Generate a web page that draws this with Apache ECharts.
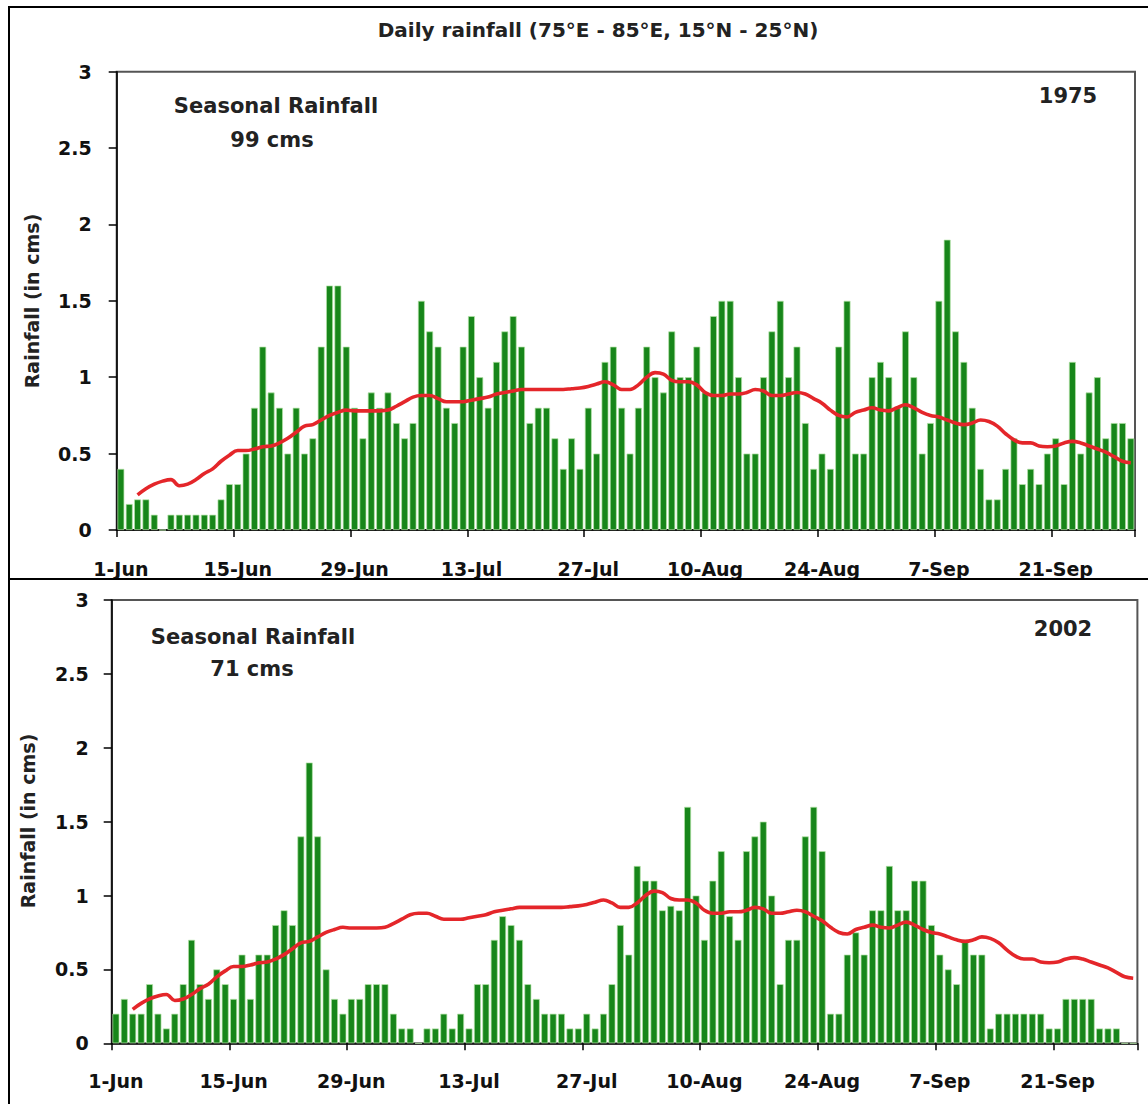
<!DOCTYPE html>
<html>
<head>
<meta charset="utf-8">
<script src="https://cdn.jsdelivr.net/npm/echarts@6/dist/echarts.min.js"></script>
<style>
html,body{margin:0;padding:0;background:#fff;}
#chart{width:1148px;height:1104px;}
</style>
</head>
<body>
<div id="chart"></div>
<script>
// ---- Data ----
const monthNames = ['Jun', 'Jul', 'Aug', 'Sep'];
const monthDays = [30, 31, 31, 30];
const tickLabels = ['1-Jun', '15-Jun', '29-Jun', '13-Jul', '27-Jul', '10-Aug', '24-Aug', '7-Sep', '21-Sep'];

// daily rainfall 1975 (cm), 1 Jun .. 30 Sep
const rain1975 = [
  0.4, 0.17, 0.2, 0.2, 0.1, 0, 0.1, 0.1, 0.1, 0.1,
  0.1, 0.1, 0.2, 0.3, 0.3, 0.5, 0.8, 1.2, 0.9, 0.8,
  0.5, 0.8, 0.5, 0.6, 1.2, 1.6, 1.6, 1.2, 0.8, 0.6,
  0.9, 0.8, 0.9, 0.7, 0.6, 0.7, 1.5, 1.3, 1.2, 0.8,
  0.7, 1.2, 1.4, 1.0, 0.8, 1.1, 1.3, 1.4, 1.2, 0.7,
  0.8, 0.8, 0.6, 0.4, 0.6, 0.4, 0.8, 0.5, 1.1, 1.2,
  0.8, 0.5, 0.8, 1.2, 1.0, 0.9, 1.3, 1.0, 1.0, 1.2,
  0.9, 1.4, 1.5, 1.5, 1.0, 0.5, 0.5, 1.0, 1.3, 1.5,
  1.0, 1.2, 0.7, 0.4, 0.5, 0.4, 1.2, 1.5, 0.5, 0.5,
  1.0, 1.1, 1.0, 0.8, 1.3, 1.0, 0.5, 0.7, 1.5, 1.9,
  1.3, 1.1, 0.8, 0.4, 0.2, 0.2, 0.4, 0.6, 0.3, 0.4,
  0.3, 0.5, 0.6, 0.3, 1.1, 0.5, 0.9, 1.0, 0.6, 0.7, 0.7, 0.6
];

// daily rainfall 2002 (cm)
const rain2002 = [
  0.2, 0.3, 0.2, 0.2, 0.4, 0.2, 0.1, 0.2, 0.4, 0.7,
  0.4, 0.3, 0.5, 0.4, 0.3, 0.6, 0.3, 0.6, 0.6, 0.8,
  0.9, 0.8, 1.4, 1.9, 1.4, 0.5, 0.3, 0.2, 0.3, 0.3,
  0.4, 0.4, 0.4, 0.2, 0.1, 0.1, 0, 0.1, 0.1, 0.2,
  0.1, 0.2, 0.1, 0.4, 0.4, 0.7, 0.86, 0.8, 0.7, 0.4,
  0.3, 0.2, 0.2, 0.2, 0.1, 0.1, 0.2, 0.1, 0.2, 0.4,
  0.8, 0.6, 1.2, 1.1, 1.1, 0.9, 0.93, 0.9, 1.6, 1.0,
  0.7, 1.1, 1.3, 0.86, 0.7, 1.3, 1.4, 1.5, 1.0, 0.4,
  0.7, 0.7, 1.4, 1.6, 1.3, 0.2, 0.2, 0.6, 0.75, 0.6,
  0.9, 0.9, 1.2, 0.9, 0.9, 1.1, 1.1, 0.8, 0.6, 0.5,
  0.4, 0.7, 0.6, 0.6, 0.1, 0.2, 0.2, 0.2, 0.2, 0.2,
  0.2, 0.1, 0.1, 0.3, 0.3, 0.3, 0.3, 0.1, 0.1, 0.1, 0, 0
];

// normal (climatological) daily rainfall curve, same in both panels
const normalCurve = [
  null, null, 0.23, 0.27, 0.30, 0.32, 0.33, 0.29, 0.30, 0.33,
  0.37, 0.40, 0.45, 0.49, 0.52, 0.52, 0.53, 0.545, 0.55, 0.57,
  0.60, 0.64, 0.68, 0.69, 0.72, 0.75, 0.77, 0.785, 0.78, 0.78,
  0.78, 0.78, 0.785, 0.81, 0.84, 0.87, 0.88, 0.88, 0.86, 0.84,
  0.84, 0.84, 0.85, 0.86, 0.87, 0.89, 0.90, 0.91, 0.92, 0.92,
  0.92, 0.92, 0.92, 0.92, 0.925, 0.93, 0.94, 0.955, 0.97, 0.95,
  0.92, 0.92, 0.95, 1.00, 1.03, 1.02, 0.98, 0.97, 0.97, 0.95,
  0.90, 0.88, 0.88, 0.89, 0.89, 0.90, 0.92, 0.91, 0.88, 0.88,
  0.89, 0.90, 0.89, 0.86, 0.83, 0.785, 0.75, 0.74, 0.77, 0.785,
  0.80, 0.785, 0.78, 0.80, 0.82, 0.80, 0.77, 0.75, 0.74, 0.72,
  0.70, 0.69, 0.70, 0.72, 0.71, 0.68, 0.63, 0.59, 0.57, 0.57,
  0.55, 0.545, 0.55, 0.57, 0.58, 0.57, 0.55, 0.53, 0.51, 0.48, 0.45, 0.44
];

const yTicks = [0, 0.5, 1, 1.5, 2, 2.5, 3];

// categories: day-month labels
const categories = [];
monthNames.forEach((m, k) => {
  for (let d = 1; d <= monthDays[k]; d++) categories.push(d + '-' + m);
});

// ---- Chart ----
const chart = echarts.init(document.getElementById('chart'), null, {renderer: 'svg'});
const FONT = '"DejaVu Sans", "Liberation Sans", Arial, sans-serif';

function xAxisCfg(gridIndex, margin) {
  return {
    type: 'category', gridIndex: gridIndex, data: categories, boundaryGap: true,
    axisLine: {show: true, lineStyle: {color: '#000', width: 1.5}},
    axisTick: {show: true, length: 7, interval: 13, lineStyle: {color: '#000', width: 1.5}},
    axisLabel: {
      interval: 13, margin: margin, color: '#111', fontFamily: FONT, fontWeight: 'bold', fontSize: 19,
      formatter: v => tickLabels.indexOf(v) >= 0 ? v : ''
    },
    splitLine: {show: false}
  };
}
function yAxisCfg(gridIndex, margin) {
  return {
    type: 'value', gridIndex: gridIndex, min: yTicks[0], max: yTicks[yTicks.length - 1], interval: 0.5,
    axisLine: {show: true, lineStyle: {color: '#000', width: 1.5}},
    axisTick: {show: true, length: 8, lineStyle: {color: '#000', width: 1.5}},
    axisLabel: {margin: margin, color: '#111', fontFamily: FONT, fontWeight: 'bold', fontSize: 19},
    splitLine: {show: false}
  };
}
const barStyle = {color: '#17861a', borderColor: '#b4e4a8', borderWidth: 0.7};
const lineStyle = {color: '#e4262a', width: 3.6};

const txt = (x, y, text, size, extra) => Object.assign({
  type: 'text', x: x, y: y, z: 50,
  style: {text: text, fill: '#222', font: 'bold ' + size + 'px ' + FONT, align: 'center', verticalAlign: 'middle'}
}, extra || {});

chart.setOption({
  animation: false,
  backgroundColor: '#fff',
  grid: [
    {left: 116.7, top: 71.7, width: 1018.3, height: 458.3, show: true, borderColor: '#555', borderWidth: 2, backgroundColor: 'transparent'},
    {left: 111.7, top: 600, width: 1025.7, height: 443.3, show: true, borderColor: '#555', borderWidth: 2, backgroundColor: 'transparent'}
  ],
  xAxis: [xAxisCfg(0, 29), xAxisCfg(1, 28)],
  yAxis: [yAxisCfg(0, 25), yAxisCfg(1, 23)],
  series: [
    {type: 'bar', xAxisIndex: 0, yAxisIndex: 0, data: rain1975, barCategoryGap: '18%', itemStyle: barStyle},
    {type: 'line', xAxisIndex: 0, yAxisIndex: 0, data: normalCurve, smooth: 0.4, showSymbol: false, lineStyle: lineStyle, z: 5},
    {type: 'bar', xAxisIndex: 1, yAxisIndex: 1, data: rain2002, barCategoryGap: '18%', itemStyle: barStyle},
    {type: 'line', xAxisIndex: 1, yAxisIndex: 1, data: normalCurve, smooth: 0.4, showSymbol: false, lineStyle: lineStyle, z: 5}
  ],
  graphic: [
    {type: 'rect', z: 100, shape: {x: 10, y: 580, width: 1140, height: 9}, style: {fill: '#fff'}},
    {type: 'line', z: 101, shape: {x1: 9, y1: 579, x2: 1150, y2: 579}, style: {stroke: '#000', lineWidth: 2}},
    {type: 'rect', z: 101, shape: {x: 9, y: 7, width: 1160, height: 1120}, style: {fill: 'none', stroke: '#000', lineWidth: 2}},
    txt(598, 30, 'Daily rainfall (75°E - 85°E, 15°N - 25°N)', 20),
    txt(276, 106, 'Seasonal Rainfall', 21),
    txt(272, 140, '99 cms', 21),
    txt(1068, 96, '1975', 21),
    txt(253, 637, 'Seasonal Rainfall', 21),
    txt(252, 669, '71 cms', 21),
    txt(1063, 629, '2002', 21),
    txt(32, 301, 'Rainfall (in cms)', 19, {rotation: Math.PI / 2}),
    txt(28, 821, 'Rainfall (in cms)', 19, {rotation: Math.PI / 2})
  ]
});
</script>
</body>
</html>
